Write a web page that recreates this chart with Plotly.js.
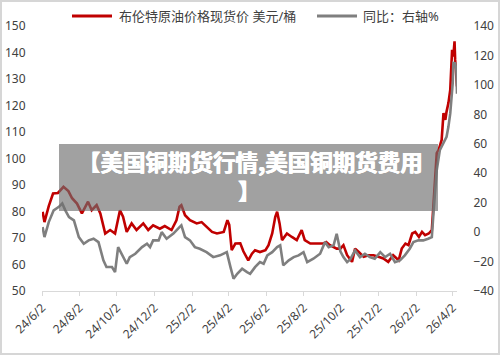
<!DOCTYPE html>
<html>
<head>
<meta charset="utf-8">
<script src="https://cdn.plot.ly/plotly-3.0.1.min.js"></script>
<style>
html,body{margin:0;padding:0;background:#fff;}
#wrap{position:relative;width:500px;height:355px;}
#chart{width:500px;height:355px;}
#frame{position:absolute;left:0;top:0;width:500px;height:355px;box-sizing:border-box;border:2px solid #d6d6d6;pointer-events:none;}
</style>
</head>
<body>
<div id="wrap"><div id="chart"></div><div id="frame"></div></div>
<script>
// ---- data ----
const seriesNames = ["布伦特原油价格现货价 美元/桶", "同比：右轴%"];

const priceDates = ["2024-06-03","2024-06-06","2024-06-13","2024-06-20","2024-06-28","2024-07-07","2024-07-15","2024-07-21","2024-07-29","2024-08-06","2024-08-16","2024-08-22","2024-08-30","2024-09-05","2024-09-13","2024-09-21","2024-09-29","2024-10-07","2024-10-12","2024-10-18","2024-10-26","2024-11-03","2024-11-14","2024-11-22","2024-11-30","2024-12-11","2024-12-19","2024-12-30","2025-01-07","2025-01-12","2025-01-15","2025-01-21","2025-01-29","2025-02-09","2025-02-17","2025-02-25","2025-03-06","2025-03-14","2025-03-25","2025-03-31","2025-04-03","2025-04-07","2025-04-13","2025-04-21","2025-04-26","2025-05-04","2025-05-10","2025-05-15","2025-05-23","2025-06-01","2025-06-06","2025-06-12","2025-06-17","2025-06-20","2025-06-24","2025-06-28","2025-07-06","2025-07-14","2025-07-22","2025-07-30","2025-08-04","2025-08-13","2025-08-24","2025-09-03","2025-09-08","2025-09-14","2025-09-25","2025-10-01","2025-10-06","2025-10-12","2025-10-20","2025-10-25","2025-10-31","2025-11-08","2025-11-16","2025-11-24","2025-12-02","2025-12-10","2025-12-18","2025-12-26","2026-01-04","2026-01-09","2026-01-15","2026-01-20","2026-01-26","2026-01-31","2026-02-06","2026-02-11","2026-02-16","2026-02-22","2026-02-27","2026-03-02","2026-03-07","2026-03-10","2026-03-15","2026-03-18","2026-03-21","2026-03-23","2026-03-26","2026-03-29","2026-04-01","2026-04-03","2026-04-05","2026-04-06","2026-04-07","2026-04-09"];
const priceValues = [79.9,76,82,86.8,87,89.3,87.7,85,83,79.3,83.7,80.5,82.4,79.3,71.7,73,71.7,80.5,78,72.3,75.5,73,75.5,73,74.8,73.5,74.5,73,76.7,81.8,82.4,78.6,76.7,75.5,76,74.2,72.3,71.7,72.3,76.7,75,65.4,67.9,68,65,61.6,64.1,65.4,64.7,65.4,67.3,71.7,78,79.9,75.5,69.2,71.7,70.4,69.2,73,69.2,67.9,67.9,67.9,68.5,67.3,66,66,67.3,63.5,61,66,64.7,62.9,63.5,63.5,62.9,62.3,61,63.5,61.6,66,67.9,67.3,71.7,72.3,70.4,72.3,71.1,71.7,73,84.3,102,103.2,107,117.1,114.6,117.7,120.9,125.9,141,138.5,144.2,137.3,132.2,127.2];

const yoyDates = ["2024-06-03","2024-06-06","2024-06-13","2024-06-21","2024-06-29","2024-07-05","2024-07-10","2024-07-16","2024-07-24","2024-08-01","2024-08-09","2024-08-17","2024-08-25","2024-09-02","2024-09-10","2024-09-15","2024-09-24","2024-09-29","2024-10-04","2024-10-10","2024-10-18","2024-10-23","2024-11-01","2024-11-12","2024-11-20","2024-11-25","2024-11-30","2024-12-09","2024-12-14","2024-12-22","2025-01-02","2025-01-12","2025-01-15","2025-01-21","2025-01-29","2025-02-06","2025-02-14","2025-02-25","2025-03-08","2025-03-19","2025-03-30","2025-04-05","2025-04-10","2025-04-16","2025-04-24","2025-05-02","2025-05-07","2025-05-15","2025-05-23","2025-05-29","2025-06-04","2025-06-12","2025-06-20","2025-06-25","2025-06-30","2025-07-09","2025-07-17","2025-07-25","2025-08-02","2025-08-08","2025-08-18","2025-08-29","2025-09-06","2025-09-12","2025-09-20","2025-09-25","2025-10-01","2025-10-06","2025-10-12","2025-10-17","2025-10-25","2025-11-02","2025-11-10","2025-11-18","2025-11-26","2025-12-05","2025-12-13","2025-12-21","2025-12-29","2026-01-06","2026-01-14","2026-01-22","2026-01-28","2026-02-05","2026-02-13","2026-02-21","2026-02-27","2026-03-02","2026-03-07","2026-03-12","2026-03-18","2026-03-23","2026-03-26","2026-03-29","2026-04-02","2026-04-03","2026-04-06","2026-04-08","2026-04-09"];
const yoyValues = [3.4,-3.4,6.8,14.8,17,19.4,14.8,10.2,8,-3.4,-7.9,-5.6,-4.5,-6.8,-19.2,-23.7,-23.7,-27.2,-10.2,-14.7,-21.5,-17,-14.7,-10.2,-7.9,-10.2,-5.6,-5.6,0,-4.5,-1,3.4,4.6,-3.4,-5.6,-10.2,-11.3,-13.6,-17,-15.8,-13.6,-23.8,-31.7,-28.3,-24.9,-27.2,-28.3,-23.8,-20.4,-21.5,-15.8,-13.6,-10.2,-9,-22.6,-19.2,-17,-15.8,-13.6,-20.4,-18.1,-14.7,-6.8,-10.2,-9,-1.1,-13,-17,-20.4,-18.5,-12.4,-17,-14.7,-17,-18.1,-13.6,-17,-14.7,-20.4,-19.2,-15.8,-11.3,-6.8,-5.6,-5.6,-4.5,-3.4,14.8,42,55.6,60.2,64.7,71.5,80.6,101,115,114.7,110.1,94];

const tickDates = ["2024-06-02","2024-08-02","2024-10-02","2024-12-02","2025-02-02","2025-04-02","2025-06-02","2025-08-02","2025-10-02","2025-12-02","2026-02-02","2026-04-02"];
const tickLabels = ["24/6/2","24/8/2","24/10/2","24/12/2","25/2/2","25/4/2","25/6/2","25/8/2","25/10/2","25/12/2","26/2/2","26/4/2"];

const bannerLines = ["【美国铜期货行情,美国铜期货费用", "】"];

// ---- layout helpers ----
const W = 500, H = 355, L = 42, R = 43, T = 26, B = 64;
const xp = px => (px - L) / (W - L - R);
const yp = py => (H - B - py) / (H - T - B);

const red = "#c00000", gray = "#7f7f7f", txt = "#404040";
const baseFont = {family: "Noto Sans, Noto Sans CJK SC, sans-serif", size: 12, color: txt};
const bannerFont = {family: "Noto Sans CJK SC, sans-serif", size: 22.5, color: "#ffffff", weight: "bold",
                    shadow: "0.5px 0 0 #ffffff, -0.5px 0 0 #ffffff"};

const traces = [
  {x: priceDates, y: priceValues, name: seriesNames[0], type: "scatter", mode: "lines",
   line: {color: red, width: 2.6}, yaxis: "y", showlegend: false},
  {x: yoyDates, y: yoyValues, name: seriesNames[1], type: "scatter", mode: "lines",
   line: {color: gray, width: 2.6}, yaxis: "y2", showlegend: false}
];

const layout = {
  width: W, height: H,
  margin: {l: L, r: R, t: T, b: B},
  paper_bgcolor: "#ffffff", plot_bgcolor: "#ffffff",
  font: baseFont,
  showlegend: false,
  xaxis: {
    type: "date", range: ["2024-06-02", "2026-04-09"],
    tickmode: "array", tickvals: tickDates, ticktext: tickLabels,
    tickangle: -45, ticks: "outside", ticklen: 4, tickcolor: "#d9d9d9",
    showline: true, linecolor: "#d9d9d9", linewidth: 1,
    showgrid: false, zeroline: false, tickfont: {size: 12, color: txt}
  },
  yaxis: {
    range: [50, 150], dtick: 10, tick0: 50, showgrid: false, zeroline: false,
    ticks: "outside", ticklen: 13, tickcolor: "rgba(0,0,0,0)", showline: false,
    tickfont: {size: 12, color: txt}
  },
  yaxis2: {
    range: [-40, 140], dtick: 20, tick0: -40, overlaying: "y", side: "right",
    showgrid: false, zeroline: false, ticks: "outside", ticklen: 13,
    tickcolor: "rgba(0,0,0,0)", showline: false, tickfont: {size: 12, color: txt}
  },
  shapes: [
    {type: "line", xref: "paper", yref: "paper", x0: xp(72), x1: xp(112), y0: yp(16), y1: yp(16),
     line: {color: red, width: 3}},
    {type: "line", xref: "paper", yref: "paper", x0: xp(317), x1: xp(357), y0: yp(16), y1: yp(16),
     line: {color: gray, width: 3}},
    {type: "rect", xref: "paper", yref: "paper", layer: "above",
     x0: xp(59), x1: xp(438), y0: yp(211), y1: yp(144),
     fillcolor: "rgba(110,110,110,0.65)", line: {width: 0}}
  ],
  annotations: [
    {xref: "paper", yref: "paper", x: xp(117), y: yp(16), xanchor: "left", yanchor: "middle",
     text: seriesNames[0], showarrow: false, font: {size: 13, color: txt}},
    {xref: "paper", yref: "paper", x: xp(361), y: yp(16), xanchor: "left", yanchor: "middle",
     text: seriesNames[1], showarrow: false, font: {size: 13, color: txt}},
    {xref: "paper", yref: "paper", x: xp(250), y: yp(161), xanchor: "center", yanchor: "middle",
     text: bannerLines[0], showarrow: false, borderpad: 0, font: bannerFont},
    {xref: "paper", yref: "paper", x: xp(249), y: yp(190), xanchor: "center", yanchor: "middle",
     text: bannerLines[1], showarrow: false, borderpad: 0, font: bannerFont}
  ]
};

Plotly.newPlot("chart", traces, layout, {staticPlot: true, displayModeBar: false});
</script>
</body>
</html>
